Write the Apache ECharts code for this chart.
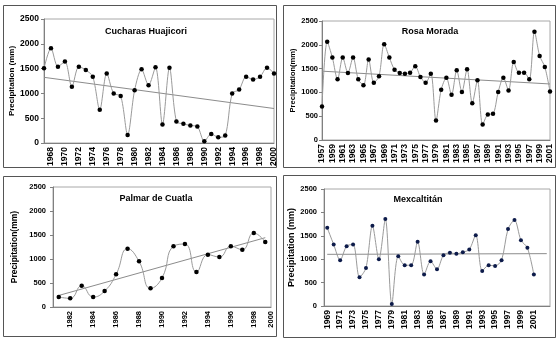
<!DOCTYPE html>
<html>
<head>
<meta charset="utf-8">
<script src="https://cdn.jsdelivr.net/npm/echarts@6/dist/echarts.min.js"></script>
<style>
  html, body { margin: 0; padding: 0; background: #fff; }
  #chart { width: 560px; height: 344px; }
</style>
</head>
<body>
<div id="chart"></div>
<script>
// Annual precipitation (mm) at four stations, with linear trend lines.

// Cucharas Huajicori, 1967-2000
const cucharasYears = ['1967','1968','1969','1970','1971','1972','1973','1974','1975','1976','1977','1978','1979','1980','1981','1982','1983','1984','1985','1986','1987','1988','1989','1990','1991','1992','1993','1994','1995','1996','1997','1998','1999','2000'];
const cucharasValues = [1505,1912,1539,1641,1132,1539,1471,1336,671,1403,997,949,163,1064,1485,1166,1525,373,1519,434,386,353,332,34,183,115,149,997,1078,1336,1281,1336,1519,1403];

// Rosa Morada, 1957-2001
const rosaYears = ['1957','1958','1959','1960','1961','1962','1963','1964','1965','1966','1967','1968','1969','1970','1971','1972','1973','1974','1975','1976','1977','1978','1979','1980','1981','1982','1983','1984','1985','1986','1987','1988','1989','1990','1991','1992','1993','1994','1995','1996','1997','1998','1999','2000','2001'];
const rosaValues = [704,2063,1732,1274,1732,1408,1732,1274,1148,1690,1204,1338,2013,1732,1478,1408,1394,1415,1549,1324,1204,1394,408,1056,1309,950,1464,1007,1485,774,1253,324,535,549,1007,1309,1042,1640,1415,1415,1274,2274,1767,1535,1021];

// Palmar de Cuatla, 1981-1999
const palmarYears = ['1981','1982','1983','1984','1985','1986','1987','1988','1989','1990','1991','1992','1993','1994','1995','1996','1997','1998','1999'];
const palmarValues = [208,181,444,208,333,680,1215,951,389,604,1264,1312,729,1090,1042,1264,1194,1542,1354];
const palmarEndLabel = '2000';

// Mexcaltitán, 1969-2001 (trend projected two more years)
const mexYears = ['1969','1970','1971','1972','1973','1974','1975','1976','1977','1978','1979','1980','1981','1982','1983','1984','1985','1986','1987','1988','1989','1990','1991','1992','1993','1994','1995','1996','1997','1998','1999','2000','2001'];
const mexValues = [1671,1314,979,1279,1314,614,814,1714,1000,1857,43,1064,871,871,1371,671,957,786,1086,1136,1114,1150,1207,1514,750,871,857,979,1643,1836,1407,1243,671];
const mexForecastYears = 2;

const stationNames = ['Cucharas Huajicori', 'Rosa Morada', 'Palmar de Cuatla', 'Mexcaltitán'];
const yTicks = { min: 0, max: 2500, step: 500 };

const FONT = "'Liberation Sans', Arial, sans-serif";

// least-squares line over the series index, evaluated at two indices
function trendEnds(values, xStart, xEnd) {
  const n = values.length;
  let sx = 0, sy = 0;
  values.forEach((v, i) => { sx += i; sy += v; });
  const mx = sx / n, my = sy / n;
  let num = 0, den = 0;
  values.forEach((v, i) => { num += (i - mx) * (v - my); den += (i - mx) * (i - mx); });
  const b = num / den, a = my - b * mx;
  return [[xStart, a + b * xStart], [xEnd, a + b * xEnd]];
}

const grids = [
  { left: 44, top: 19, width: 230, height: 124 },
  { left: 322, top: 21, width: 228, height: 119 },
  { left: 53, top: 187, width: 218, height: 120 },
  { left: 324, top: 189, width: 226, height: 117 }
].map(g => Object.assign(g, { show: true, borderColor: '#a8a8a8', borderWidth: 1, backgroundColor: '#fff' }));

function yAxis(gridIndex, name, labelSize, margin, nameGap, nameSize) {
  return {
    type: 'value', gridIndex, min: yTicks.min, max: yTicks.max, interval: yTicks.step,
    name, nameLocation: 'middle', nameGap,
    nameTextStyle: { fontFamily: FONT, fontWeight: 'bold', fontSize: nameSize, color: '#000' },
    axisLine: { show: true, lineStyle: { color: '#808080', width: 1 } },
    axisTick: { show: true, length: 3, lineStyle: { color: '#808080' } },
    splitLine: { show: false },
    axisLabel: {
      fontFamily: FONT, fontWeight: 'bold', fontSize: labelSize, color: '#000', margin,
      formatter: v => String(v)
    }
  };
}

function xAxis(gridIndex, data, boundaryGap, showLabel, labelSize, extra) {
  return Object.assign({
    type: 'category', gridIndex, data, boundaryGap,
    axisLine: { show: true, lineStyle: { color: '#808080', width: 1 } },
    axisTick: { show: false },
    splitLine: { show: false },
    axisLabel: {
      rotate: 90, margin: 4, fontFamily: FONT, fontWeight: 'bold', fontSize: labelSize, color: '#000',
      interval: (idx, val) => showLabel(val)
    }
  }, extra || {});
}

const isEven = v => v !== undefined && Number(v) % 2 === 0;
const isOdd = v => v !== undefined && Number(v) % 2 === 1;

function dataSeries(axisIdx, values, smooth, color, size) {
  return {
    type: 'line', xAxisIndex: axisIdx, yAxisIndex: axisIdx, data: values,
    smooth, symbol: 'circle', symbolSize: size, showAllSymbol: true,
    lineStyle: { color: '#9a9a9a', width: 1 },
    itemStyle: { color },
    z: 3, animation: false
  };
}

function trendSeries(axisIdx, ends) {
  return {
    type: 'line', xAxisIndex: axisIdx, yAxisIndex: axisIdx, data: ends,
    symbol: 'none', lineStyle: { color: '#8c8c8c', width: 1 }, z: 2, animation: false
  };
}

const titleCenters = [[146, 27], [430, 27], [156, 194], [418, 195]];

const option = {
  backgroundColor: '#fff',
  animation: false,
  title: stationNames.map((t, i) => ({
    text: t, left: titleCenters[i][0], top: titleCenters[i][1], textAlign: 'center',
    padding: 0,
    textStyle: { fontFamily: FONT, fontWeight: 'bold', fontSize: 9, color: '#000' }
  })),
  grid: grids,
  xAxis: [
    xAxis(0, cucharasYears, false, isEven, 8.5),
    xAxis(1, rosaYears, false, isOdd, 8.5),
    xAxis(2, palmarYears, true, isEven, 7.5),
    xAxis(3, mexYears, true, isOdd, 8.5, { max: mexYears.length - 1 + mexForecastYears }),
    {
      type: 'value', gridIndex: 2, min: 0, max: 1, interval: 1, position: 'bottom',
      axisLine: { show: false }, axisTick: { show: false }, splitLine: { show: false },
      axisLabel: {
        rotate: 90, margin: 4, fontFamily: FONT, fontWeight: 'bold', fontSize: 7.5, color: '#000',
        formatter: v => (v === 1 ? palmarEndLabel : '')
      }
    }
  ],
  yAxis: [
    yAxis(0, 'Precipitation (mm)', 8.5, 5, 23, 8),
    yAxis(1, 'Precipitation(mm)', 7.5, 4, 23, 7.5),
    yAxis(2, 'Precipitation(mm)', 7.5, 7, 34, 8.5),
    yAxis(3, 'Precipitation (mm)', 7.5, 7, 26, 9)
  ],
  series: [
    trendSeries(0, trendEnds(cucharasValues, 0, cucharasValues.length - 1)),
    dataSeries(0, cucharasValues, 0.3, '#000', 4.5),
    trendSeries(1, trendEnds(rosaValues, 0, rosaValues.length - 1)),
    dataSeries(1, rosaValues, 0.3, '#000', 4.5),
    trendSeries(2, trendEnds(palmarValues, 0, palmarValues.length - 1)),
    dataSeries(2, palmarValues, 0.5, '#000', 4.5),
    trendSeries(3, trendEnds(mexValues, 0, mexValues.length - 1 + mexForecastYears)),
    dataSeries(3, mexValues, 0.3, '#0d1b4a', 4)
  ],
  graphic: [
    { type: 'rect', shape: { x: 3.5, y: 5.5, width: 273, height: 162 }, style: { fill: 'none', stroke: '#555', lineWidth: 1 }, silent: true },
    { type: 'rect', shape: { x: 283.5, y: 5.5, width: 272, height: 162 }, style: { fill: 'none', stroke: '#555', lineWidth: 1 }, silent: true },
    { type: 'rect', shape: { x: 3.5, y: 176.5, width: 273, height: 160 }, style: { fill: 'none', stroke: '#555', lineWidth: 1 }, silent: true },
    { type: 'rect', shape: { x: 283.5, y: 175.5, width: 272, height: 162 }, style: { fill: 'none', stroke: '#555', lineWidth: 1 }, silent: true }
  ]
};

const chart = echarts.init(document.getElementById('chart'), null, { renderer: 'canvas' });
chart.setOption(option);
</script>
</body>
</html>
